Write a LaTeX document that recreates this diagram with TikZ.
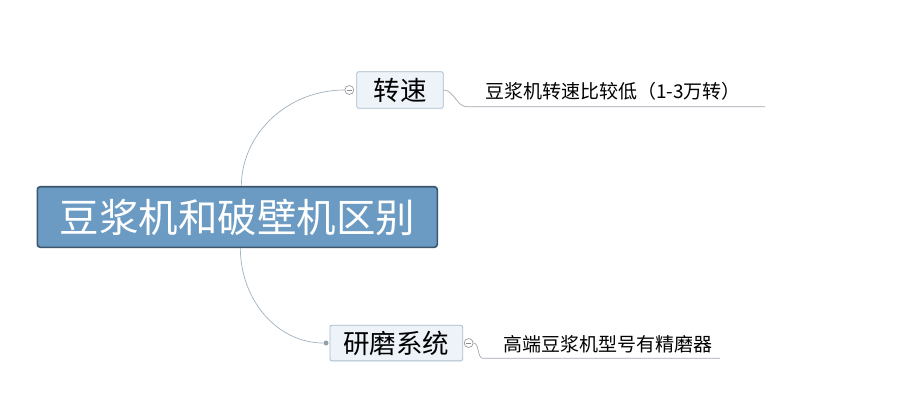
\documentclass[tikz,border=0pt]{standalone}
\usepackage{fontspec}
\newfontfamily\cjk{Noto Sans CJK SC}
\usetikzlibrary{positioning}
\definecolor{rootBlue}{HTML}{6B9BC3}
\definecolor{rootEdge}{HTML}{3C566E}
\definecolor{subFill}{HTML}{EDF3F8}
\definecolor{subEdge}{HTML}{A9BCCA}
\definecolor{branchLine}{HTML}{A0B3C1}
\definecolor{leafLine}{HTML}{A3AAB0}
\definecolor{foldGray}{HTML}{8E8E8E}

\begin{document}
\begin{tikzpicture}[x=1pt,y=-1pt]
	\tikzset{rootNode/.style={draw=rootEdge,line width=1.6pt,fill=rootBlue,text=white,rounded corners=3,minimum width=400,minimum height=60.6,inner sep=0,font=\cjk\fontsize{39.5}{42}\selectfont}}
	\tikzset{subNode/.style={draw=subEdge,line width=0.8pt,fill=subFill,rounded corners=2,inner sep=0,font=\cjk\fontsize{26.5}{28}\selectfont}}
	\tikzset{leafText/.style={inner sep=0,font=\cjk\fontsize{19}{20}\selectfont}}
	\tikzset{foldNode/.style={circle,draw=foldGray,fill=white,line width=0.6pt,minimum size=9,inner sep=0}}
	\useasboundingbox[fill=white] (0,0) rectangle (917,400);
	
	% Branch nodes
	\node (speed) at (400,90) [subNode,minimum width=86.6,minimum height=36.6] {转速};
	\node (grind) at (396.3,343) [subNode,minimum width=132.7,minimum height=35.7] {研磨系统};
	
	% Fold markers
	\node[left = 2.2pt of speed, foldNode] (foldSpeed) {};
	\draw[foldGray,line width=0.6pt] ([xshift=2pt]foldSpeed.west) -- ([xshift=-2pt]foldSpeed.east);
	\node[right = 0.8pt of grind, foldNode] (foldGrind) {};
	\draw[foldGray,line width=0.6pt] ([xshift=2pt]foldGrind.west) -- ([xshift=-2pt]foldGrind.east);
	\node[left = 0.8pt of grind, circle, fill=branchLine!90!black, minimum size=5, inner sep=0] (grindDot) {};
	
	% Branch curves from the root
	\node (rootPos) at (237.3,217) {};
	\coordinate (upStart) at ([xshift=4pt,yshift=30.3pt]rootPos.center);
	\coordinate (downStart) at ([xshift=3pt,yshift=-30.3pt]rootPos.center);
	\draw[branchLine,line width=0.7pt] (upStart) .. controls +(0,-53) and +(-57,0) .. (foldSpeed.west);
	\draw[branchLine,line width=0.7pt] (downStart) .. controls +(0,53) and +(-46,0) .. (grindDot.west);
	
	% Root
	\node (root) at (rootPos) [rootNode] {豆浆机和破壁机区别};
	
	% Leaf texts with underlines
	\node[leafText, anchor=west] (speedText) at (485,91) {豆浆机转速比较低（1-3万转）};
	\coordinate (speedBend) at (466.7,106.7);
	\coordinate (speedEnd) at (765,106.7);
	\draw[leafLine,line width=0.7pt] (speed.east) .. controls +(10,0) and +(-10,0) .. (speedBend) -- (speedEnd);
	
	\node[leafText, anchor=west] (grindText) at (503.3,344) {高端豆浆机型号有精磨器};
	\coordinate (grindBend) at (483,358.3);
	\coordinate (grindEnd) at (720,358.3);
	\draw[leafLine,line width=0.7pt] (foldGrind.east) .. controls +(6,0) and +(-6,0) .. (grindBend) -- (grindEnd);
\end{tikzpicture}
\end{document}
